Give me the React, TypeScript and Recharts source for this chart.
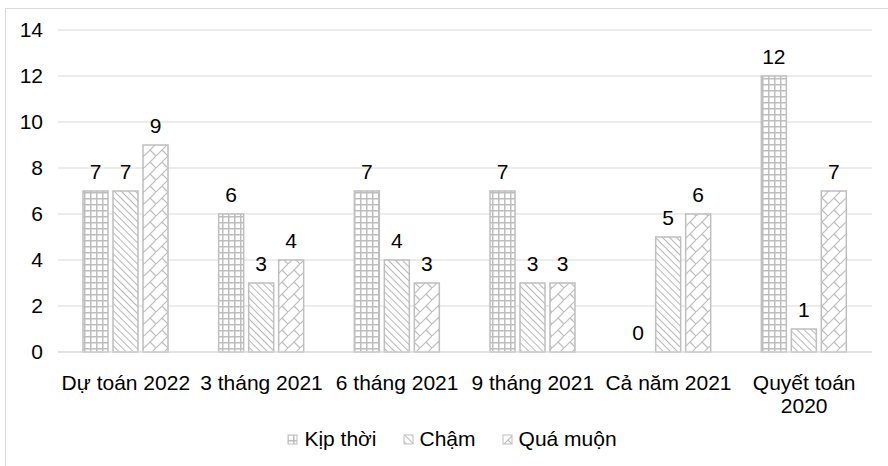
import { Bar, BarChart, CartesianGrid, Rectangle, XAxis, YAxis } from "recharts"

const categories = ["Dự toán 2022", "3 tháng 2021", "6 tháng 2021", "9 tháng 2021", "Cả năm 2021", "Quyết toán\n2020"]
const kipThoi = [7, 6, 7, 7, 0, 12]
const cham = [7, 3, 4, 3, 5, 1]
const quaMuon = [9, 4, 3, 3, 6, 7]
const yTicks = [0, 2, 4, 6, 8, 10, 12, 14]

const seriesNames = ["Kịp thời", "Chậm", "Quá muộn"]
const patternIds = ["pGrid", "pDiag", "pBrick"]

const FONT = "'Liberation Sans', Arial, sans-serif"
const FS = 21
const STROKE = "#bfbfbf"

const data = categories.map((c, i) => ({
  name: c,
  kip: kipThoi[i],
  cham: cham[i],
  qua: quaMuon[i],
}))

function Patterns() {
  return (
    <defs>
      <pattern id="pGrid" width="6" height="6" patternUnits="userSpaceOnUse">
        <rect width="6" height="6" fill="#fff" />
        <path d="M0 0.75 H6 M0.75 0 V6" stroke="#bdbdbd" strokeWidth="1.5" />
      </pattern>
      <pattern id="pDiag" width="5" height="5" patternUnits="userSpaceOnUse" patternTransform="rotate(-45)">
        <rect width="5" height="5" fill="#fff" />
        <line x1="0.5" y1="0" x2="0.5" y2="5" stroke="#b8b8b8" strokeWidth="1" />
      </pattern>
      <pattern id="pBrick" width="12" height="12" patternUnits="userSpaceOnUse">
        <rect width="12" height="12" fill="#fff" />
        <path d="M0 12 L12 0 M6 6 L12 12 M-6 6 L0 12 M0 0 L-6 -6" stroke="#bdbdbd" strokeWidth="1.2" fill="none" />
      </pattern>
    </defs>
  )
}

function CatTick({ x, y, payload }: any) {
  const lines = String(payload.value).split("\n")
  return (
    <text x={x} y={y + 30} textAnchor="middle" fontSize={FS} fontFamily={FONT} fill="#000">
      {lines.map((l, i) => (
        <tspan key={i} x={x} dy={i === 0 ? 0 : 23}>
          {l}
        </tspan>
      ))}
    </text>
  )
}

// bars with value 0 get a tiny height so their label still shows, but nothing is drawn
function BarShape(props: any) {
  if (props.height < 0.5) return <g />
  return <Rectangle {...props} />
}

function TopLabel(props: any) {
  const { x, y, width, height, value } = props
  if (value === undefined || value === null) return null
  const v = Array.isArray(value) ? value[1] - value[0] : value
  const top = height < 0.5 ? y + height : y
  return (
    <text x={x + width / 2} y={top - 12} textAnchor="middle" fontSize={FS} fontFamily={FONT} fill="#000">
      {Math.round(v)}
    </text>
  )
}

const minSize = (v: any) => (v === 0 ? 0.01 : 0)

export default function App() {
  return (
    <div style={{ position: "absolute", left: 0, top: 0, width: 888, height: 466, overflow: "hidden", background: "#fff" }}>
      <div style={{ position: "absolute", left: 5, top: 8, width: 1000, height: 1000, border: "1px solid #d9d9d9" }} />
      <BarChart
        width={888}
        height={466}
        data={data}
        margin={{ top: 30, right: 16, left: 0, bottom: 54 }}
        barSize={25}
        barGap={5}
        style={{ position: "absolute", left: 0, top: 0 }}
      >
        <Patterns />
        <CartesianGrid vertical={false} stroke="#d9d9d9" />
        <XAxis dataKey="name" height={60} tickLine={false} axisLine={{ stroke: "#d9d9d9" }} tick={<CatTick />} interval={0} />
        <YAxis
          width={58}
          domain={[0, 14]}
          ticks={yTicks}
          tickLine={false}
          axisLine={false}
          tickSize={0}
          tickMargin={15}
          tick={{ fontSize: FS, fontFamily: FONT, fill: "#000" }}
        />
        <Bar dataKey="kip" fill="url(#pGrid)" stroke={STROKE} strokeWidth={1.5} isAnimationActive={false} label={TopLabel} shape={BarShape} minPointSize={minSize} />
        <Bar dataKey="cham" fill="url(#pDiag)" stroke={STROKE} strokeWidth={1.5} isAnimationActive={false} label={TopLabel} shape={BarShape} minPointSize={minSize} />
        <Bar dataKey="qua" fill="url(#pBrick)" stroke={STROKE} strokeWidth={1.5} isAnimationActive={false} label={TopLabel} shape={BarShape} minPointSize={minSize} />
      </BarChart>
      <div
        style={{
          position: "absolute",
          top: 427,
          left: 0,
          width: 888,
          display: "flex",
          justifyContent: "center",
          gap: 26,
          fontFamily: FONT,
          fontSize: FS,
          color: "#000",
          paddingLeft: 16,
          boxSizing: "border-box",
        }}
      >
        {seriesNames.map((n, i) => (
          <div key={n} style={{ display: "flex", alignItems: "center", gap: 6 }}>
            <svg width={11} height={11}>
              <Patterns />
              <rect x={1} y={1} width={9} height={9} fill={`url(#${patternIds[i]})`} stroke={STROKE} strokeWidth={1} />
            </svg>
            <span>{n}</span>
          </div>
        ))}
      </div>
    </div>
  )
}
